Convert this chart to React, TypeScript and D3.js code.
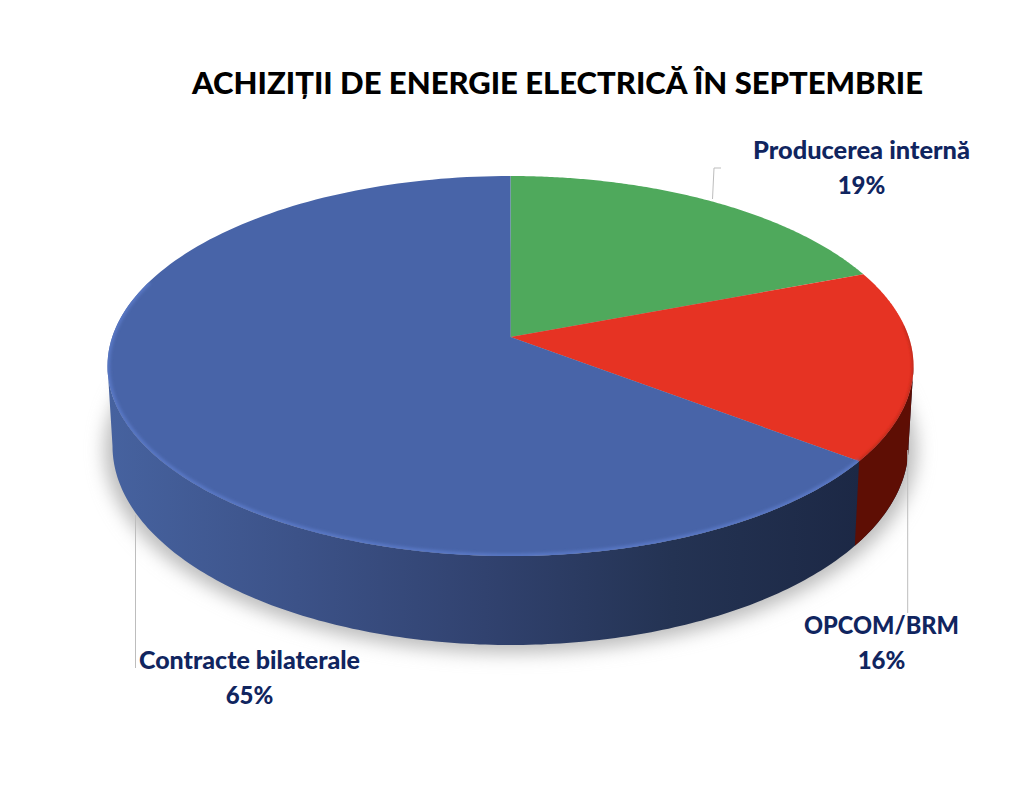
import React from "react";
import * as d3 from "d3";

const title = "ACHIZIȚII DE ENERGIE ELECTRICĂ ÎN SEPTEMBRIE";
const categories = ["Producerea internă", "OPCOM/BRM", "Contracte bilaterale"];
const values = [19.2, 16.2, 64.6];
const percentLabels = ["19%", "16%", "65%"];
const topColors = ["#4fa95c", "#e63323", "#4864a8"];
const sideRedColor = "#5e0e04";
const sideStops = [
  ["0%", "#46629f"],
  ["25%", "#3c5288"],
  ["50%", "#31426f"],
  ["75%", "#243353"],
  ["100%", "#1c2845"],
];

const W = 1024, H = 804;
// top rim ellipse & bottom rim ellipse of the tilted disc
const topE = { cx: 510.5, cy: 366, rx: 403, ry: 190 };
const botE = { cx: 510.5, cy: 446, rx: 398, ry: 199 };
const shadowE = { cx: 510.5, cy: 450, rx: 406, ry: 203 };
const apexShift = -0.153; // perspective: disc centre sits above the ellipse centre

const sx = d3.scaleLinear().domain([-1, 1]).range([topE.cx - topE.rx, topE.cx + topE.rx]);
const sy = d3.scaleLinear().domain([-1, 1]).range([topE.cy - topE.ry, topE.cy + topE.ry]);
const bx = d3.scaleLinear().domain([-1, 1]).range([botE.cx - botE.rx, botE.cx + botE.rx]);
const by = d3.scaleLinear().domain([-1, 1]).range([botE.cy - botE.ry, botE.cy + botE.ry]);

// Projects a point of the flat unit disc into the ellipse's normalised frame.
function project(u: number, w: number): [number, number] {
  const a = apexShift;
  const d = 1 + a * w;
  return [(u * Math.sqrt(1 - a * a)) / d, (w + a) / d];
}
const rimTop = (theta: number): [number, number] => {
  const [u, w] = project(Math.sin(theta), -Math.cos(theta));
  return [sx(u), sy(w)];
};
const rimBot = (theta: number): [number, number] => {
  const [u, w] = project(Math.sin(theta), -Math.cos(theta));
  return [bx(u), by(w)];
};
const line = d3.line<[number, number]>().curve(d3.curveLinear);
const sample = (a0: number, a1: number, f: (t: number) => [number, number], n = 160) =>
  d3.range(n + 1).map((i) => f(a0 + ((a1 - a0) * i) / n));

const arcs = d3.pie<number>().sort(null).value((d) => d)(values);
const apex: [number, number] = [sx(0), sy(apexShift)];

const ellipseBox = (e: typeof topE, n = 240) =>
  d3.range(n + 1).map((i): [number, number] => {
    const t = (i / n) * 2 * Math.PI;
    return [e.cx + e.rx * Math.cos(t), e.cy + e.ry * Math.sin(t)];
  });

// The wall's silhouette: lower half of top ellipse joined to lower half of bottom ellipse.
const halfLower = (e: typeof topE, n = 200) =>
  d3.range(n + 1).map((i): [number, number] => {
    const t = (i / n) * Math.PI;
    return [e.cx + e.rx * Math.cos(t), e.cy + e.ry * Math.sin(t)];
  });
const wall = [...halfLower(botE), ...halfLower(topE).reverse()];

const splitAngle = arcs[1].endAngle;
const splitTop = rimTop(splitAngle);
const splitBot = rimBot(splitAngle);
const redWall: [number, number][] = [
  splitTop,
  ...sample(splitAngle, arcs[1].startAngle, rimTop, 60).filter((p) => p[1] >= topE.cy),
  [topE.cx + topE.rx, topE.cy],
  [botE.cx + botE.rx, botE.cy],
  ...sample(Math.PI / 2, splitAngle, rimBot, 60),
  splitBot,
];

const leaders: [number, number][][] = [
  [[721, 168], [714, 168], [712.5, 199]],
  [[907.7, 450], [907.7, 613]],
  [[135.5, 515], [135.5, 668]],
];
const labelPos: [number, number][] = [[861.5, 159], [881.5, 634], [249.5, 669]];
const labelWidths = [217, 155, 221];

export default function App() {
  return (
    <svg
      width={W}
      height={H}
      viewBox={`0 0 ${W} ${H}`}
      style={{ position: "absolute", left: 0, top: 0, background: "#fff" }}
    >
      <defs>
        <linearGradient id="wallGrad" gradientUnits="userSpaceOnUse" x1={110} x2={860} y1={0} y2={0}>
          {sideStops.map(([o, c]) => (
            <stop key={o} offset={o} stopColor={c} />
          ))}
        </linearGradient>
        <filter id="shadow" x="-10%" y="-10%" width="120%" height="120%">
          <feGaussianBlur stdDeviation="9" />
        </filter>
        <filter id="soft" x="-5%" y="-5%" width="110%" height="110%">
          <feGaussianBlur stdDeviation="1.6" />
        </filter>
        <clipPath id="topClip">
          <path d={line(ellipseBox(topE))! + "Z"} />
        </clipPath>
      </defs>

      <text
        x={557.5}
        y={94}
        textAnchor="middle"
        fontFamily="Lato, sans-serif"
        fontWeight={900}
        fontSize={29.5}
        textLength={731}
        lengthAdjust="spacingAndGlyphs"
        fill="#000"
      >
        {title}
      </text>

      {/* drop shadow */}
      <g filter="url(#shadow)">
        <path d={line(ellipseBox(shadowE))! + "Z"} fill="#bcbcbc" />
      </g>

      {/* walls */}
      <path d={line(wall)! + "Z"} fill="url(#wallGrad)" />
      <path d={line(redWall)! + "Z"} fill={sideRedColor} />

      {/* top face */}
      {arcs.map((a, i) => (
        <path
          key={categories[i]}
          d={line([apex, ...sample(a.startAngle, a.endAngle, rimTop)])! + "Z"}
          fill={topColors[i]}
        />
      ))}

      {/* bevel along the front rim */}
      <g clipPath="url(#topClip)">
        <path
          d={line(sample(arcs[2].startAngle, Math.PI * 1.6, rimTop))!}
          fill="none"
          stroke="#5877c4"
          strokeWidth={5}
          filter="url(#soft)"
        />
        <path
          d={line(sample(arcs[1].startAngle + 0.3, arcs[1].endAngle, rimTop))!}
          fill="none"
          stroke="#a82515"
          strokeWidth={2}
          filter="url(#soft)"
        />
      </g>

      {/* leader lines */}
      {leaders.map((pts, i) => (
        <path key={i} d={line(pts)!} fill="none" stroke="#bdbdbd" strokeWidth={1} />
      ))}

      {/* labels */}
      {categories.map((c, i) => (
        <text
          key={c}
          textAnchor="middle"
          fontFamily="Lato, sans-serif"
          fontWeight={900}
          fontSize={24}
          fill="#10255f"
        >
          <tspan x={labelPos[i][0]} y={labelPos[i][1]} textLength={labelWidths[i]} lengthAdjust="spacingAndGlyphs">{c}</tspan>
          <tspan x={labelPos[i][0]} y={labelPos[i][1] + 35}>{percentLabels[i]}</tspan>
        </text>
      ))}
    </svg>
  );
}
